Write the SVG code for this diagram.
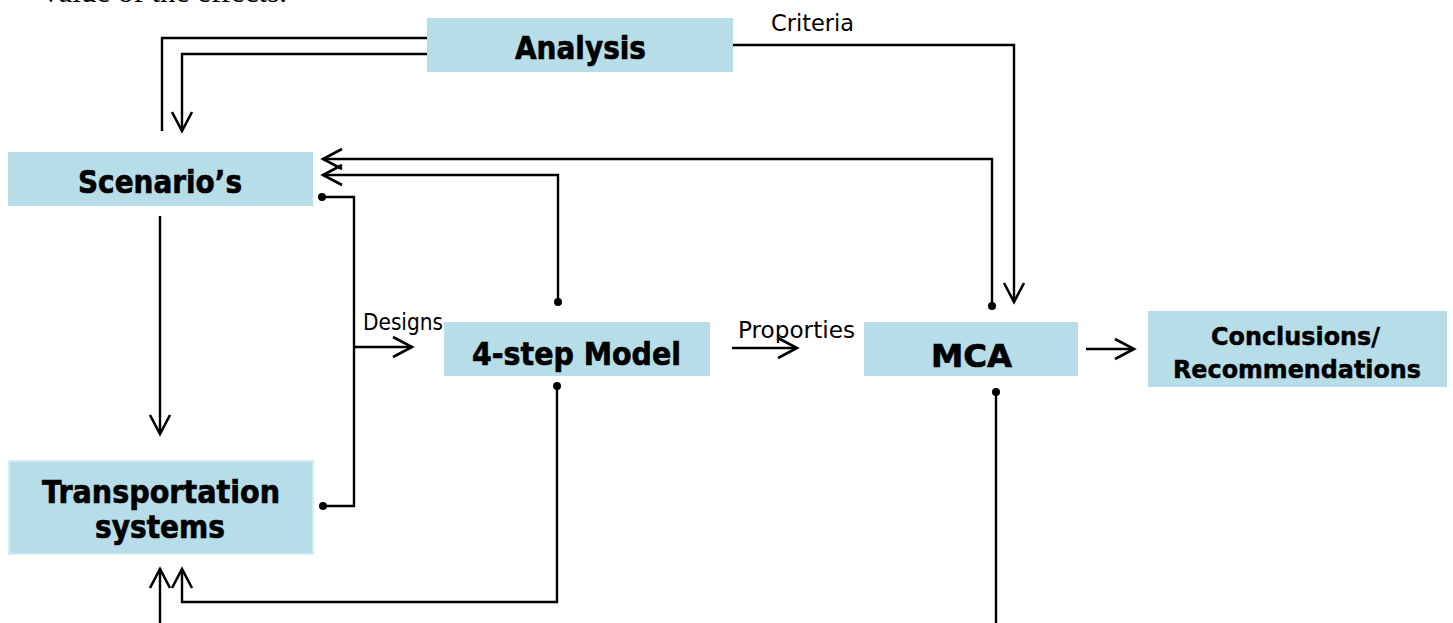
<svg xmlns="http://www.w3.org/2000/svg" width="1453" height="623" viewBox="0 0 1453 623">
  <style>
    .box { fill: #b7dde8; }
    .bl { font-family: "DejaVu Sans", Verdana, sans-serif; font-weight: bold; font-size: 32px; fill: #000; stroke: #000; stroke-width: 0.7px; text-anchor: middle; }
    .bs { font-family: "DejaVu Sans", Verdana, sans-serif; font-weight: bold; font-size: 25px; fill: #000; stroke: #000; stroke-width: 0.5px; text-anchor: middle; }
    .lab { font-family: "DejaVu Sans", Verdana, sans-serif; font-size: 23px; fill: #000; }
    .ln { fill: none; stroke: #000; stroke-width: 2.4; }
    .arr { marker-end: url(#ah); }
    .dot { fill: #000; }
  </style>
  <defs>
    <marker id="ah" markerUnits="userSpaceOnUse" orient="auto" refX="0" refY="0" overflow="visible" markerWidth="20" markerHeight="20">
      <path d="M-19,-10 L0,0 L-19,10" fill="none" stroke="#000" stroke-width="2.6"/>
    </marker>
  </defs>
  <rect width="1453" height="623" fill="#fff"/>

  <text x="43" y="2" font-family="Liberation Serif, serif" font-size="30" textLength="244" lengthAdjust="spacingAndGlyphs">value of the effects.</text>

  <g id="connectors">
    <polyline class="ln" points="427,38 162,38 162,131"/>
    <polyline class="ln arr" points="427,54 182,54 182,131"/>
    <polyline class="ln arr" points="733,45 1014,45 1014,302"/>
    <polyline class="ln arr" points="992,306 992,159 323,159"/>
    <circle class="dot" cx="992" cy="306" r="4"/>
    <polyline class="ln arr" points="558,302 558,175 323,175"/>
    <circle class="dot" cx="558" cy="302" r="4"/>
    <polyline class="ln" points="322,197 354,197 354,506 323,506"/>
    <circle class="dot" cx="322" cy="197" r="4"/>
    <circle class="dot" cx="323" cy="506" r="4"/>
    <polyline class="ln arr" points="354,347 412,347"/>
    <polyline class="ln arr" points="160,216 160,434"/>
    <polyline class="ln arr" points="557,386 557,602 182,602 182,569"/>
    <circle class="dot" cx="557" cy="386" r="4"/>
    <polyline class="ln arr" points="160,623 160,569"/>
    <polyline class="ln" points="996,392 996,623"/>
    <circle class="dot" cx="996" cy="392" r="4"/>
    <polyline class="ln arr" points="732,348 797,348"/>
    <polyline class="ln arr" points="1086,349 1134,349"/>
    <text class="lab" x="771" y="31" textLength="83" lengthAdjust="spacingAndGlyphs">Criteria</text>
    <text class="lab" x="363" y="330" font-size="21" textLength="80" lengthAdjust="spacingAndGlyphs">Designs</text>
    <text class="lab" x="738" y="338" textLength="117" lengthAdjust="spacingAndGlyphs">Proporties</text>
  </g>

  <g id="analysis">
    <rect class="box" x="427" y="18" width="306" height="54"/>
    <text class="bl" x="580.5" y="59" textLength="131" lengthAdjust="spacingAndGlyphs">Analysis</text>
  </g>
  <g id="scenarios">
    <rect class="box" x="8" y="152" width="305" height="54"/>
    <text class="bl" x="160" y="193" textLength="164" lengthAdjust="spacingAndGlyphs">Scenario’s</text>
  </g>
  <g id="model">
    <rect class="box" x="444" y="322" width="266" height="54"/>
    <text class="bl" x="576.5" y="365" textLength="209" lengthAdjust="spacingAndGlyphs">4-step Model</text>
  </g>
  <g id="mca">
    <rect class="box" x="864" y="322" width="214" height="54"/>
    <text class="bl" x="971.5" y="367" textLength="81" lengthAdjust="spacingAndGlyphs">MCA</text>
  </g>
  <g id="conclusions">
    <rect class="box" x="1148" y="311" width="299" height="76"/>
    <text class="bs" x="1295.5" y="345" textLength="169" lengthAdjust="spacingAndGlyphs">Conclusions/</text>
    <text class="bs" x="1297" y="378" textLength="248" lengthAdjust="spacingAndGlyphs">Recommendations</text>
  </g>
  <g id="transportation">
    <rect class="box" x="9" y="461" width="304" height="93" stroke="#d3ecf3" stroke-width="2"/>
    <text class="bl" x="161" y="503" textLength="238" lengthAdjust="spacingAndGlyphs">Transportation</text>
    <text class="bl" x="160" y="538" textLength="130" lengthAdjust="spacingAndGlyphs">systems</text>
  </g>
</svg>
